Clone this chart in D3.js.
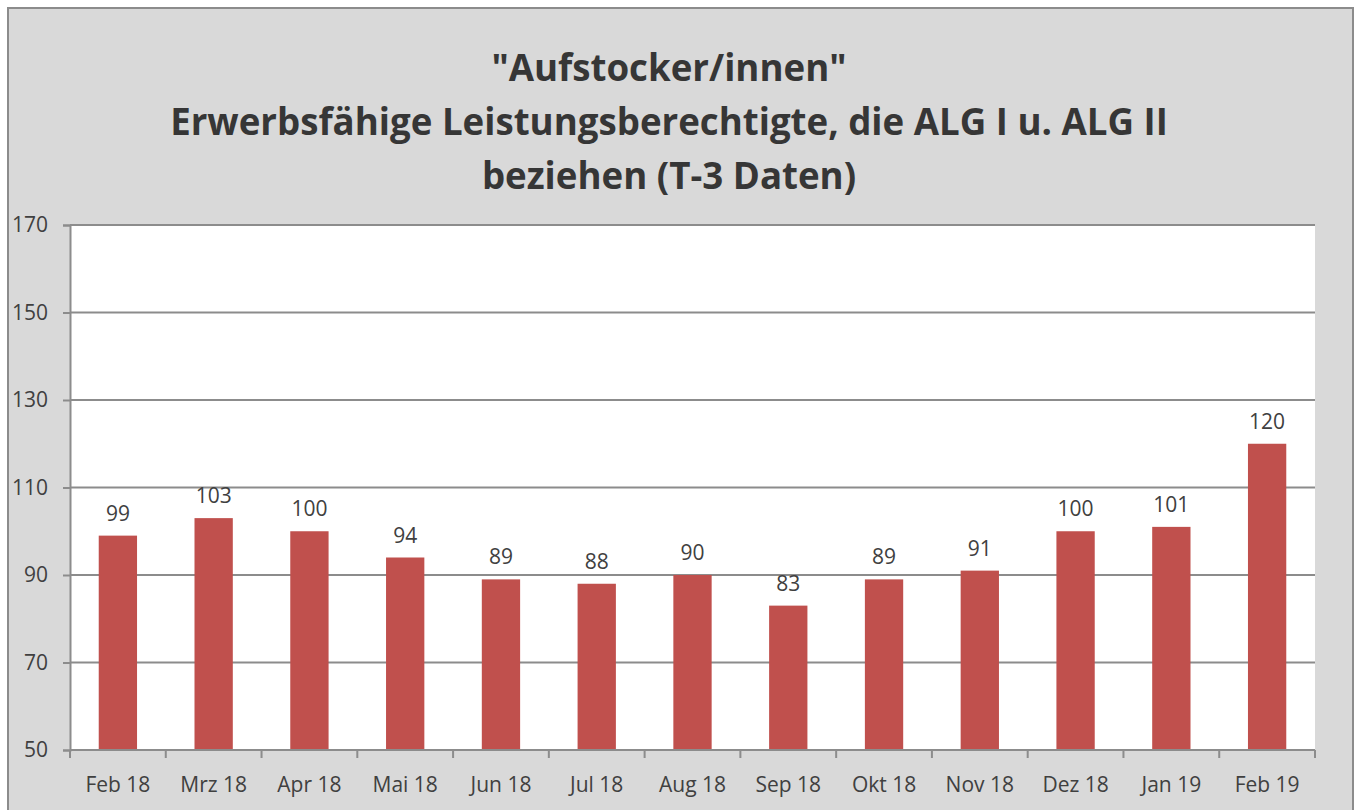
<!DOCTYPE html>
<html>
<head>
<meta charset="utf-8">
<script src="https://cdn.jsdelivr.net/npm/d3@7"></script>
<style>
    body { margin: 0; background: #fff; }
    svg { display: block; }
    text { font-family: "Open Sans", sans-serif; fill: #404040; }
</style>
</head>
<body>
<svg id="chart"></svg>
<script>
// chart data
const months = ["Feb 18", "Mrz 18", "Apr 18", "Mai 18", "Jun 18", "Jul 18", "Aug 18",
    "Sep 18", "Okt 18", "Nov 18", "Dez 18", "Jan 19", "Feb 19"];
const values = [99, 103, 100, 94, 89, 88, 90, 83, 89, 91, 100, 101, 120];
const yTicks = [50, 70, 90, 110, 130, 150, 170];
const titleLines = ["\"Aufstocker/innen\"",
    "Erwerbsfähige Leistungsberechtigte, die ALG I u. ALG II",
    "beziehen (T-3 Daten)"];

const W = 1355, H = 810;
const plot = { left: 70, right: 1315, top: 225, bottom: 750 };

const svg = d3.select("#chart").attr("width", W).attr("height", H);

// outer chart frame
svg.append("rect")
    .attr("x", 8).attr("y", 8)
    .attr("width", 1345).attr("height", 820)
    .attr("fill", "#d9d9d9")
    .attr("stroke", "#8c8c8c")
    .attr("stroke-width", 2);

svg.append("rect")
    .attr("x", plot.left).attr("y", plot.top)
    .attr("width", plot.right - plot.left).attr("height", plot.bottom - plot.top)
    .attr("fill", "#fff");

// title
const title = svg.append("g");
titleLines.forEach((t, i) => {
    title.append("text")
        .attr("x", 669)
        .attr("y", 81 + i * 54)
        .attr("text-anchor", "middle")
        .attr("font-size", 34)
        .attr("font-weight", "bold")
        .style("fill", "#363636")
        .text(t);
});
// fit the title to the reference width
const line2 = title.selectAll("text").nodes()[1];
const scaleF = 998 / line2.getComputedTextLength();
title.selectAll("text").attr("font-size", 34 * scaleF);

const x = d3.scaleBand()
    .domain(months)
    .range([plot.left, plot.right])
    .paddingInner(0)
    .paddingOuter(0);

const y = d3.scaleLinear()
    .domain([50, 170])
    .range([plot.bottom, plot.top]);

// gridlines
svg.append("g")
    .selectAll("line")
    .data(yTicks.filter(d => d > 50))
    .join("line")
    .attr("x1", plot.left).attr("x2", plot.right)
    .attr("y1", d => y(d)).attr("y2", d => y(d))
    .attr("stroke", "#8c8c8c")
    .attr("stroke-width", 2);

// bars
const barW = x.bandwidth() * 0.4;
svg.append("g")
    .selectAll("rect")
    .data(values)
    .join("rect")
    .attr("x", (d, i) => x(months[i]) + (x.bandwidth() - barW) / 2)
    .attr("y", d => y(d))
    .attr("width", barW)
    .attr("height", d => y(50) - y(d))
    .attr("fill", "#c0504d");

// value labels
svg.append("g")
    .selectAll("text")
    .data(values)
    .join("text")
    .attr("x", (d, i) => x(months[i]) + x.bandwidth() / 2)
    .attr("y", d => y(d) - 15)
    .attr("text-anchor", "middle")
    .attr("font-size", 21)
    .text(d => d);

// y axis
const yAxis = svg.append("g")
    .attr("transform", `translate(${plot.left},0)`)
    .call(d3.axisLeft(y).tickValues(yTicks).tickSize(7).tickPadding(15));
yAxis.select(".domain").attr("stroke", "#8c8c8c").attr("stroke-width", 2);
yAxis.selectAll(".tick line").attr("stroke", "#8c8c8c").attr("stroke-width", 2);
yAxis.selectAll(".tick text").attr("font-size", 21).attr("font-family", null)
    .attr("x", -22);

// x axis with ticks at category boundaries
const xAxis = svg.append("g")
    .attr("transform", `translate(0,${plot.bottom})`)
    .call(d3.axisBottom(x).tickSizeOuter(0).tickSize(0).tickPadding(27));
xAxis.select(".domain").attr("stroke", "#8c8c8c").attr("stroke-width", 2)
    .attr("d", `M${plot.left},0H${plot.right}`);
xAxis.selectAll(".tick text").attr("font-size", 21).attr("font-family", null);
xAxis.append("g")
    .selectAll("line")
    .data(months.map((m, i) => x(m)).concat([plot.right]))
    .join("line")
    .attr("x1", d => d).attr("x2", d => d)
    .attr("y1", 0).attr("y2", 8)
    .attr("stroke", "#8c8c8c")
    .attr("stroke-width", 2);
</script>
</body>
</html>
